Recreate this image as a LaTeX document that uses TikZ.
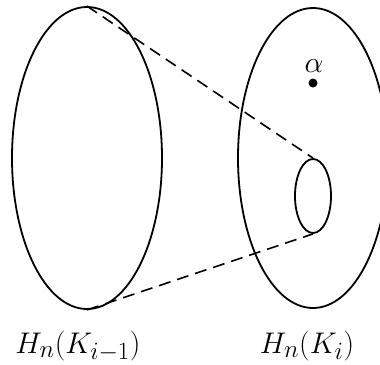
\documentclass[tikz,border=0pt]{standalone}
\usetikzlibrary{shapes.geometric}
\begin{document}
\begin{tikzpicture}[x=1pt,y=-1pt,
  oval/.style={draw,ellipse,line width=1.8pt,inner sep=0pt},
  dashline/.style={line width=1.6pt,dash pattern=on 12pt off 7pt},
  lbl/.style={anchor=base,inner sep=0pt,font=\Huge,scale=1.2}]
\useasboundingbox (0,0) rectangle (380,364);
\begin{scope}
\clip (0,0) rectangle (380,364);
\node[oval,minimum width=150pt,minimum height=302pt] (L) at (87,158) {};
\node[oval,minimum width=150pt,minimum height=300pt] (R) at (313,158) {};
\node[oval,minimum width=36pt,minimum height=74pt] (S) at (313,196) {};
\draw[dashline] (L.north) -- (S.north);
\draw[dashline] (L.south) -- (S.south);
\fill (313,83) circle (4.5pt) coordinate (dot);
\node[lbl] (alpha) at (314,72) {$\alpha$};
\end{scope}
\node[lbl] (l1) at (78,353) {$H_n(K_{i-1})$};
\node[lbl] (l2) at (307,353) {$H_n(K_i)$};
\end{tikzpicture}
\end{document}
